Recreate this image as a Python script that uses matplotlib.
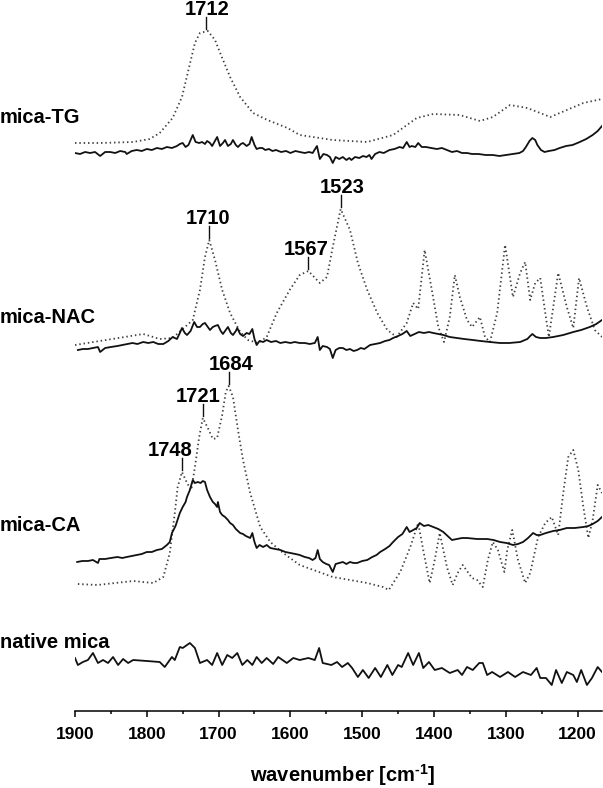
import numpy as np
import matplotlib.pyplot as plt

plt.rcParams['font.family'] = ['Liberation Sans', 'DejaVu Sans']
plt.rcParams['mathtext.fontset'] = 'custom'
plt.rcParams['mathtext.rm'] = 'Liberation Sans:bold'
plt.rcParams['mathtext.bf'] = 'Liberation Sans:bold'

# ---- spectra (wavenumber, relative intensity) ----
# mica-TG
tg_wn = [1900, 1893, 1886, 1879, 1872, 1865, 1858, 1851, 1844, 1837, 1830, 1828, 1821, 1814,
         1807, 1800, 1793, 1786, 1779, 1772, 1765, 1758, 1754, 1750, 1746, 1742, 1736, 1732,
         1727, 1723, 1719, 1716, 1712, 1709, 1702, 1698, 1694, 1691, 1687, 1683, 1680, 1676,
         1673, 1669, 1666, 1661, 1657, 1654, 1650, 1647, 1643, 1639, 1635, 1630, 1625, 1620,
         1613, 1606, 1600, 1593, 1587, 1580, 1574, 1569, 1563, 1559, 1554, 1549, 1545, 1541,
         1537, 1532, 1527, 1522, 1518, 1515, 1510, 1504, 1499, 1494, 1490, 1487, 1482, 1476,
         1470, 1462, 1455, 1448, 1443, 1438, 1434, 1431, 1426, 1422, 1417, 1411, 1404, 1396,
         1389, 1382, 1375, 1368, 1361, 1354, 1347, 1338, 1328, 1318, 1309, 1300, 1290, 1281,
         1276, 1272, 1267, 1263, 1259, 1256, 1251, 1246, 1240, 1232, 1225, 1216, 1207, 1197,
         1188, 1179, 1172, 1166]
tg_film = [0, -1, 1, 0, 1, -3, 1, 1, 0, 2, 1, -1, 2, 3,
           2, 4, 3, 5, 4, 6, 5, 7, 9, 10, 6, 8, 18, 11,
           10, 11, 9, 12, 10, 7, 16, 7, 10, 13, 7, 9, 13, 8,
           6, 9, 10, 7, 9, 16, 8, 4, 5, 5, 3, 4, 2, 3,
           1, 2, 0, 2, 1, 0, 1, 0, 7, -6, -1, -2, -4, -10,
           -4, -6, -4, -7, -5, -7, -4, -5, -3, -4, -2, -6, -1, 1,
           0, 3, 4, 6, 5, 11, 6, 7, 6, 10, 6, 6, 5, 4,
           5, 3, 1, 2, 0, 0, -1, -1, -2, -2, -3, -2, -1, 0,
           2, 6, 12, 15, 13, 8, 3, 1, 2, 3, 5, 7, 8, 11,
           14, 18, 22, 27]
tg_ref_wn = [1900, 1865, 1819, 1796, 1782, 1764, 1751, 1743, 1733, 1726, 1715, 1705, 1695, 1684,
             1670, 1652, 1632, 1604, 1587, 1541, 1493, 1457, 1424, 1401, 1364, 1336, 1318, 1294,
             1270, 1238, 1215, 1192, 1166]
tg_ref = [10, 10, 11, 14, 20, 35, 56, 80, 110, 120, 122, 113, 95, 76,
          56, 40, 33, 25, 18, 13, 11, 18, 35, 39, 38, 32, 36, 48,
          45, 36, 43, 50, 54]

# mica-NAC
nac_wn = [1896, 1889, 1882, 1875, 1868, 1865, 1858, 1850, 1841, 1834, 1827, 1820, 1813, 1805,
          1798, 1791, 1784, 1777, 1770, 1764, 1758, 1754, 1751, 1747, 1744, 1739, 1734, 1730,
          1726, 1722, 1719, 1715, 1712, 1708, 1705, 1701, 1697, 1694, 1690, 1687, 1683, 1680,
          1676, 1674, 1670, 1666, 1661, 1657, 1653, 1650, 1647, 1643, 1638, 1633, 1627, 1620,
          1614, 1607, 1600, 1594, 1587, 1580, 1573, 1566, 1562, 1559, 1555, 1549, 1545, 1541,
          1537, 1532, 1527, 1522, 1517, 1512, 1507, 1502, 1497, 1489, 1482, 1475, 1468, 1462,
          1457, 1450, 1444, 1438, 1433, 1427, 1421, 1414, 1407, 1401, 1394, 1387, 1378, 1368,
          1358, 1346, 1335, 1322, 1308, 1295, 1280, 1270, 1266, 1263, 1258, 1252, 1244, 1234,
          1220, 1206, 1195, 1183, 1174, 1166]
nac_film = [-5, -4, -4, -3, -2, -7, -3, -2, -1, 0, 1, 2, 1, 3,
            2, 3, 1, 1, 4, 8, 6, 12, 17, 12, 10, 14, 23, 18,
            18, 21, 22, 18, 15, 18, 19, 20, 14, 11, 15, 18, 12, 10,
            14, 17, 11, 9, 12, 11, 16, 6, 0, 4, 3, 5, 3, 4,
            2, 3, 2, 3, 2, 2, 1, 2, 8, -5, -1, -2, -4, -13,
            -5, -3, -3, -5, -4, -6, -5, -3, -4, 0, 1, 2, 4, 5,
            7, 9, 11, 14, 9, 11, 13, 12, 13, 12, 11, 10, 8, 7,
            6, 5, 4, 3, 2, 2, 3, 6, 9, 11, 8, 7, 7, 8,
            10, 13, 15, 18, 21, 25]
nac_ref_wn = [1900, 1805, 1782, 1764, 1736, 1726, 1719, 1713, 1705, 1695, 1684, 1670, 1659, 1645,
              1633, 1619, 1601, 1587, 1575, 1559, 1549, 1541, 1530, 1517, 1506, 1493, 1479, 1465,
              1452, 1438, 1429, 1422, 1413, 1403, 1394, 1386, 1378, 1371, 1364, 1354, 1347, 1336,
              1329, 1322, 1312, 1301, 1290, 1280, 1273, 1266, 1259, 1252, 1245, 1240, 1227, 1215,
              1206, 1198, 1187, 1176, 1166]
nac_ref = [0, 11, 6, 7, 25, 55, 88, 105, 85, 55, 32, 13, 5, 2,
           8, 32, 55, 70, 74, 62, 68, 98, 136, 115, 82, 55, 32, 15,
           8, 22, 42, 36, 95, 55, 18, 3, 28, 70, 48, 25, 18, 28,
           8, 3, 32, 100, 48, 72, 83, 45, 62, 67, 32, 8, 72, 38,
           17, 67, 38, 15, 8]

# mica-CA
ca_wn = [1897, 1890, 1882, 1875, 1868, 1866, 1858, 1850, 1841, 1834, 1828, 1821, 1814, 1807,
         1800, 1793, 1786, 1779, 1772, 1768, 1765, 1760, 1754, 1750, 1746, 1744, 1740, 1736,
         1733, 1729, 1725, 1722, 1719, 1716, 1712, 1708, 1705, 1702, 1701, 1698, 1695, 1691,
         1687, 1684, 1680, 1676, 1673, 1670, 1666, 1662, 1659, 1656, 1653, 1650, 1647, 1643,
         1638, 1633, 1628, 1621, 1614, 1607, 1600, 1593, 1587, 1580, 1574, 1569, 1565, 1562,
         1559, 1555, 1550, 1546, 1541, 1537, 1532, 1527, 1522, 1517, 1512, 1507, 1500, 1493,
         1486, 1480, 1475, 1468, 1462, 1457, 1450, 1444, 1438, 1434, 1429, 1424, 1420, 1414,
         1408, 1401, 1394, 1387, 1381, 1375, 1368, 1361, 1354, 1340, 1326, 1317, 1308, 1299,
         1290, 1283, 1276, 1269, 1262, 1257, 1252, 1244, 1234, 1225, 1215, 1204, 1192, 1185,
         1179, 1172, 1166]
ca_film = [0, 1, 1, 2, -1, 3, 3, 4, 5, 4, 5, 6, 7, 8,
           10, 10, 12, 13, 17, 20, 29, 36, 49, 55, 60, 65, 72, 82,
           79, 80, 79, 81, 80, 72, 65, 60, 58, 55, 60, 50, 47, 45,
           42, 39, 37, 33, 31, 29, 28, 26, 25, 24, 29, 20, 14, 17,
           15, 17, 14, 13, 12, 10, 9, 8, 7, 5, 4, 2, 4, 12,
           3, 0, -2, -3, -10, -2, -1, 0, -2, 0, -1, -1, 1, 2,
           5, 7, 10, 13, 16, 20, 25, 28, 35, 30, 32, 34, 39, 36,
           37, 35, 33, 30, 26, 22, 23, 24, 24, 23, 23, 22, 20, 19,
           17, 18, 20, 24, 29, 27, 27, 29, 31, 32, 34, 34, 35, 36,
           38, 41, 45]
ca_ref_wn = [1896, 1869, 1819, 1791, 1777, 1768, 1761, 1757, 1751, 1744, 1738, 1733, 1727, 1722,
             1715, 1708, 1702, 1695, 1690, 1686, 1680, 1673, 1666, 1656, 1642, 1628, 1610, 1587,
             1541, 1493, 1471, 1463, 1447, 1433, 1422, 1415, 1406, 1399, 1392, 1382, 1374, 1367,
             1360, 1347, 1340, 1332, 1325, 1318, 1311, 1302, 1298, 1291, 1283, 1273, 1266, 1255,
             1245, 1236, 1227, 1220, 1213, 1206, 1199, 1192, 1185, 1179, 1172, 1166]
ca_ref = [-22, -23, -19, -21, -15, 9, 49, 75, 90, 79, 72, 95, 125, 144,
          134, 123, 124, 147, 170, 176, 165, 132, 102, 69, 35, 20, 9, -3,
          -15, -21, -25, -28, -10, 15, 39, 12, -21, 2, 29, -5, -23, -11,
          -3, -16, -18, -25, 2, 20, 12, -10, 12, 32, 2, -21, -11, 25,
          39, 45, 27, 69, 105, 112, 92, 55, 24, 42, 77, 69]

# native mica
mica_wn = [1900, 1896, 1889, 1882, 1875, 1868, 1861, 1854, 1847, 1840, 1833, 1826, 1819, 1800,
           1782, 1775, 1765, 1761, 1754, 1750, 1740, 1733, 1726, 1716, 1709, 1702, 1695, 1688,
           1681, 1674, 1667, 1660, 1653, 1647, 1640, 1633, 1624, 1617, 1605, 1596, 1587, 1575,
           1566, 1560, 1555, 1543, 1535, 1528, 1520, 1514, 1506, 1499, 1491, 1482, 1474, 1465,
           1458, 1450, 1445, 1436, 1429, 1421, 1415, 1407, 1399, 1389, 1378, 1367, 1361, 1354,
           1346, 1337, 1332, 1326, 1319, 1308, 1297, 1287, 1276, 1265, 1257, 1252, 1244, 1236,
           1230, 1222, 1215, 1206, 1201, 1195, 1187, 1180, 1172, 1166]
mica = [2, -5, -2, 0, 7, -3, 0, -3, 3, -5, 1, -3, 0, -1,
        -2, -7, 3, 0, 13, 12, 17, 12, -3, 0, -5, 7, -5, 5,
        2, 7, -5, 0, -5, 3, -3, 2, -4, 3, -3, 2, 0, 2,
        0, 12, -3, -5, -2, -7, -3, -8, -17, -10, -18, -8, -17, -5,
        -15, -5, -7, 7, -5, 7, -8, -2, -10, -8, -13, -10, -15, -7,
        -10, -3, -3, -15, -12, -17, -12, -17, -12, -15, -8, -18, -18, -25,
        -10, -23, -12, -15, -22, -10, -25, -18, -7, -12]

names = ['mica-TG', 'mica-NAC', 'mica-CA', 'native mica']
offsets = [558, 366, 149, 51]

# peak marks: label, position of the mark, position of the label
peak_labels = ['1712', '1710', '1567', '1523', '1684', '1721', '1748']
peak_wn = [1717, 1713, 1575, 1530, 1686, 1722, 1751]
peak_text_wn = [1716, 1715, 1578, 1528, 1683, 1729, 1768]
peak_trace = [0, 1, 1, 1, 2, 2, 2]

fig = plt.figure(figsize=(6.03, 7.88), dpi=100)
ax = fig.add_axes([75 / 603, 77 / 788, 527 / 603, 711 / 788])

dot = dict(color='#404040', lw=1.3, ls=(0, (0.8, 1.6)))
sol = dict(color='#111111', lw=1.3)

ref_sets = [(tg_ref_wn, tg_ref), (nac_ref_wn, nac_ref), (ca_ref_wn, ca_ref), None]
film_sets = [(tg_wn, tg_film), (nac_wn, nac_film), (ca_wn, ca_film), (mica_wn, mica)]

for i in range(4):
    if ref_sets[i] is not None:
        w, v = ref_sets[i]
        ax.plot(w, np.array(v) + offsets[i], **dot)
    w, v = film_sets[i]
    ax.plot(w, np.array(v) + offsets[i], **sol)

for lab, wn, twn, tr in zip(peak_labels, peak_wn, peak_text_wn, peak_trace):
    w, v = ref_sets[tr]
    top = np.interp(wn, w[::-1], v[::-1]) + offsets[tr]
    ax.plot([wn, wn], [top + 2, top + 14], color='#111111', lw=1.0)
    ax.text(twn, top + 16, lab, ha='center', va='baseline', fontsize=14.5, fontweight='bold')

baselines = [123, 323, 531, 648]
for name, b in zip(names, baselines):
    fig.text(0.0, 1 - b / 788, name, ha='left', va='baseline', fontsize=14.5, fontweight='bold')

ax.set_xlim(1900, 1166)
ax.set_ylim(0, 711)
ax.set_xticks(np.arange(1900, 1150, -100))
ax.set_xticks(np.arange(1850, 1150, -100), minor=True)
ax.tick_params(axis='x', which='major', length=4.3, width=1.1, pad=7, labelsize=12.5)
ax.tick_params(axis='x', which='minor', length=2.4, width=1.1)
for lbl in ax.get_xticklabels():
    lbl.set_fontweight('bold')
ax.set_yticks([])
for s in ['left', 'top', 'right']:
    ax.spines[s].set_visible(False)
ax.spines['bottom'].set_linewidth(1.1)
ax.patch.set_alpha(0)

ax.set_xlabel(r'wavenumber [cm$^{\text{-1}}$]', fontsize=14.5, fontweight='bold', va='baseline')
ax.xaxis.set_label_coords(268 / 527, -71 / 711)

fig.savefig('out.png', dpi=100)
